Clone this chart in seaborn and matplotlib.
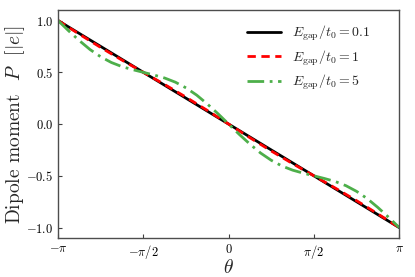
import numpy as np
import pandas as pd
import matplotlib
matplotlib.use("Agg")
import matplotlib.pyplot as plt
import seaborn as sns

# theta in units of pi
theta_fine = [-1.0, -0.9375, -0.875, -0.8125, -0.75, -0.6875, -0.625, -0.5625, -0.5,
              -0.4375, -0.375, -0.3125, -0.25, -0.1875, -0.125, -0.0625, 0.0,
              0.0625, 0.125, 0.1875, 0.25, 0.3125, 0.375, 0.4375, 0.5,
              0.5625, 0.625, 0.6875, 0.75, 0.8125, 0.875, 0.9375, 1.0]
theta_coarse = [-1.0, -0.875, -0.75, -0.625, -0.5, -0.375, -0.25, -0.125, 0.0,
                0.125, 0.25, 0.375, 0.5, 0.625, 0.75, 0.875, 1.0]

P_gap01 = [1.0, 0.875, 0.75, 0.625, 0.5, 0.375, 0.25, 0.125, 0.0,
           -0.125, -0.25, -0.375, -0.5, -0.625, -0.75, -0.875, -1.0]
P_gap1 = [1.0, 0.868, 0.74, 0.618, 0.5, 0.382, 0.26, 0.132, 0.0,
          -0.132, -0.26, -0.382, -0.5, -0.618, -0.74, -0.868, -1.0]
P_gap5 = [1.0, 0.900, 0.806, 0.720, 0.650, 0.595, 0.555, 0.526, 0.5,
          0.474, 0.445, 0.405, 0.350, 0.280, 0.194, 0.100, 0.0,
          -0.100, -0.194, -0.280, -0.350, -0.405, -0.445, -0.474, -0.5,
          -0.526, -0.555, -0.595, -0.650, -0.720, -0.806, -0.900, -1.0]

xtick_vals = [-1.0, -0.5, 0.0, 0.5, 1.0]
xtick_labels = [r"$-\pi$", r"$-\pi/2$", r"$0$", r"$\pi/2$", r"$\pi$"]
ytick_vals = [-1.0, -0.5, 0.0, 0.5, 1.0]
ytick_labels = [r"$-1.0$", r"$-0.5$", r"$0.0$", r"$0.5$", r"$1.0$"]

sns.set_style("ticks")
plt.rcParams["font.family"] = "serif"
plt.rcParams["font.serif"] = ["cmr10", "DejaVu Serif"]
plt.rcParams["mathtext.fontset"] = "cm"
plt.rcParams["axes.formatter.use_mathtext"] = True

fig = plt.figure(figsize=(4.15, 2.77), dpi=100)
ax = fig.add_axes([0.14, 0.141, 0.822, 0.822])

sns.lineplot(x=np.array(theta_coarse) * np.pi, y=P_gap01, ax=ax, color="black",
             lw=2, label=r"$E_{\rm gap}/t_0 = 0.1$")
sns.lineplot(x=np.array(theta_coarse) * np.pi, y=P_gap1, ax=ax, color="red",
             lw=2, ls=(0, (3, 2)), label=r"$E_{\rm gap}/t_0 = 1$")
sns.lineplot(x=np.array(theta_fine) * np.pi, y=P_gap5, ax=ax, color="#4daf4a",
             lw=2, ls=(0, (6, 2, 1, 2)), label=r"$E_{\rm gap}/t_0 = 5$")

ax.set_xlim(-np.pi, np.pi)
ax.set_ylim(-1.1, 1.1)
ax.set_xticks(np.array(xtick_vals) * np.pi)
ax.set_xticklabels(xtick_labels)
ax.set_yticks(ytick_vals)
ax.set_yticklabels(ytick_labels)
ax.tick_params(direction="in", labelsize=9, length=3, width=0.8, colors="0.25",
               labelcolor="black")
for s in ax.spines.values():
    s.set_color("0.3")
    s.set_linewidth(1.0)

ax.set_xlabel(r"$\theta$", fontsize=14, labelpad=-1)
ax.set_ylabel(r"Dipole moment  $P$  $[|e|]$", fontsize=14)
ax.yaxis.set_label_coords(-0.09, 0.5)

ax.legend(loc="upper right", bbox_to_anchor=(0.965, 1.015), frameon=False,
          fontsize=10, handlelength=2.4, labelspacing=0.4, borderaxespad=0.8,
          handletextpad=0.85)

fig.savefig("out.png", dpi=100)
